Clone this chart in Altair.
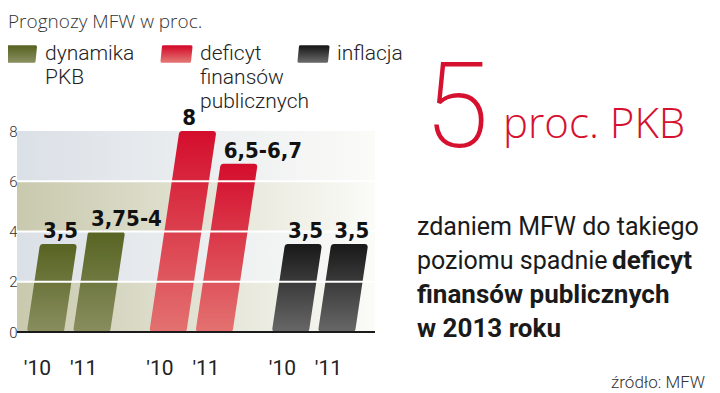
import altair as alt
import pandas as pd

# ---------------- data ----------------
groups = ["dynamika PKB", "dynamika PKB", "deficyt", "deficyt", "inflacja", "inflacja"]
years = ["'10", "'11", "'10", "'11", "'10", "'11"]
values = [3.5, 4.0, 8.0, 6.7, 3.5, 3.5]
value_labels = ["3,5", "3,75-4", "8", "6,5-6,7", "3,5", "3,5"]
y_ticks = [0, 2, 4, 6, 8]
grid_values = [2, 4, 6]
band_lo = [0, 2, 4, 6]
band_hi = [2, 4, 6, 8]
band_tone = ["olive", "gray", "olive", "gray"]

title_text = "Prognozy MFW w proc."
legend_labels = ["dynamika\nPKB", "deficyt\nfinansów\npublicznych", "inflacja"]
big_number = "5"
big_unit = "proc. PKB"
para_regular_1 = "zdaniem MFW do takiego"
para_regular_2 = "poziomu spadnie"
para_bold_2 = "deficyt"
para_bold_3 = "finansów publicznych"
para_bold_4 = "w 2013 roku"
source_text = "źródło: MFW"

# ---------------- layout constants ----------------
W, H = 358, 201
X_MAX = 7.6
X0, GROUP_STEP, YEAR_STEP, BAR_W = 0.21, 2.6, 0.98, 0.786
SLANT = 0.0796          # horizontal shift per value unit (italic bars)
INSET_X, INSET_Y = 0.064, 0.12   # inset compensating rounded stroke

xs = alt.Scale(domain=[0, X_MAX], nice=False, zero=False)
ys = alt.Scale(domain=[0, 8], nice=False)
yaxis = alt.Axis(values=y_ticks, domain=False, ticks=False, grid=False, labelPadding=0,
                 labelFontSize=15, labelFont="Roboto", labelFontWeight=300,
                 labelColor="#333333", title=None)

gi = [i // 2 for i in range(len(values))]
yi = [i % 2 for i in range(len(values))]
xl = [X0 + g * GROUP_STEP + y * YEAR_STEP for g, y in zip(gi, yi)]

rows = []
for i, v in enumerate(values):
    for yy in (INSET_Y, v - INSET_Y):
        rows.append({"bar": i, "group": groups[i], "y": yy,
                     "xa": xl[i] + INSET_X + SLANT * yy,
                     "xb": xl[i] + BAR_W - INSET_X + SLANT * yy})
bars_df = pd.DataFrame(rows)

lab_df = pd.DataFrame({
    "v": values, "label": value_labels, "year": years,
    "xtop": [x + SLANT * v for x, v in zip(xl, values)],
    "xbot": [x + BAR_W / 2 for x in xl],
    "zero": [0] * len(values),
})

bands_df = pd.DataFrame({"lo": band_lo, "hi": band_hi, "tone": band_tone})
grid_df = pd.DataFrame({"g": grid_values})


def vgrad(top, bottom):
    return alt.Gradient(gradient="linear", x1=0, x2=0, y1=0, y2=1,
                        stops=[alt.GradientStop(offset=0, color=top),
                               alt.GradientStop(offset=1, color=bottom)])


def hgrad(left, right):
    return alt.Gradient(gradient="linear", x1=0, x2=1, y1=0, y2=0,
                        stops=[alt.GradientStop(offset=0, color=left),
                               alt.GradientStop(offset=1, color=right)])


palette = {
    "dynamika PKB": ("#596524", "#878c5d"),
    "deficyt": ("#d40f2e", "#e3706f"),
    "inflacja": ("#1b1b1b", "#656565"),
}

layers = []

# background bands
for tone, col in (("olive", "#c8c9ad"), ("gray", "#dbe0e7")):
    layers.append(
        alt.Chart(bands_df).transform_filter(alt.datum.tone == tone)
        .mark_rect(fill=hgrad(col, "#fbfbf8"))
        .encode(x=alt.value(0), x2=alt.value("width"),
                y=alt.Y("lo:Q", scale=ys, axis=yaxis), y2="hi:Q")
    )

# slanted bars
for g, (top, bot) in palette.items():
    grad = vgrad(top, bot)
    layers.append(
        alt.Chart(bars_df).transform_filter(alt.datum.group == g)
        .mark_area(orient="horizontal", fill=grad, stroke=grad, strokeWidth=6,
                   strokeJoin="round")
        .encode(y=alt.Y("y:Q", scale=ys, axis=yaxis),
                x=alt.X("xa:Q", scale=xs, axis=None),
                x2="xb:Q", detail="bar:N")
    )

# white gridlines over bars
layers.append(
    alt.Chart(grid_df).mark_rule(color="white", strokeWidth=2)
    .encode(y=alt.Y("g:Q", scale=ys, axis=yaxis), x=alt.value(0), x2=alt.value("width"))
)

# baseline
layers.append(
    alt.Chart(pd.DataFrame({"z": [0]})).mark_rule(color="#1a1a1a", strokeWidth=2)
    .encode(y=alt.Y("z:Q", scale=ys, axis=yaxis), x=alt.value(0), x2=alt.value("width"))
)

# value labels
layers.append(
    alt.Chart(lab_df).mark_text(align="left", baseline="alphabetic", dx=3, dy=-6,
                                font="DejaVu Sans Condensed", fontWeight="bold",
                                fontSize=22, color="#111111")
    .encode(x=alt.X("xtop:Q", scale=xs, axis=None), y=alt.Y("v:Q", scale=ys, axis=yaxis),
            text="label:N")
)

# year labels
layers.append(
    alt.Chart(lab_df).mark_text(align="center", baseline="alphabetic", dx=-8, dy=43,
                                font="Roboto", fontSize=21, color="#222222")
    .encode(x=alt.X("xbot:Q", scale=xs, axis=None), y=alt.Y("zero:Q", scale=ys, axis=yaxis),
            text="year:N")
)


def txt(s, x, y, size, weight="normal", color="#222222", font="Roboto",
        align="left", line_height=None):
    kw = dict(align=align, baseline="alphabetic", font=font, fontSize=size,
              fontWeight=weight, color=color, lineBreak="\n")
    if line_height:
        kw["lineHeight"] = line_height
    return (alt.Chart(pd.DataFrame({"t": [s]})).mark_text(**kw)
            .encode(x=alt.value(x), y=alt.value(y), text="t:N"))


swatch_path = "M-0.9,-0.5 L1,-0.5 L0.9,0.5 L-1,0.5 Z"


def swatch(x, y, top, bot):
    grad = vgrad(top, bot)
    return (alt.Chart(pd.DataFrame({"t": [1]}))
            .mark_point(shape=swatch_path, filled=True, size=841, fill=grad,
                        stroke=grad, strokeWidth=3, strokeJoin="round", opacity=1)
            .encode(x=alt.value(x), y=alt.value(y)))


# title + legend
layers.append(txt(title_text, -9, -103, 19, weight=300, color="#333333", font="Open Sans"))
legend_x = [4, 159.5, 296.5]
legend_tx = [28, 183, 320]
for k, g in enumerate(palette):
    top, bot = palette[g]
    layers.append(swatch(legend_x[k], -77, top, bot))
    layers.append(txt(legend_labels[k], legend_tx[k], -71, 21, weight=300,
                      color="#222222", line_height=24))

# big number
red = "#d5112f"
layers.append(txt(big_number, 407, 16, 118, weight=200, color=red))
layers.append(txt(big_unit, 486, 7, 42, weight=300, color=red, font="Open Sans"))

# paragraph
layers.append(txt(para_regular_1, 400, 104, 25, color="#1a1a1a"))
layers.append(txt(para_regular_2, 400, 138, 25, color="#1a1a1a"))
layers.append(txt(para_bold_2, 595, 138, 26, weight="bold", color="#1a1a1a"))
layers.append(txt(para_bold_3, 400, 172, 26, weight="bold", color="#1a1a1a"))
layers.append(txt(para_bold_4, 400, 206, 26, weight="bold", color="#1a1a1a"))

# source
layers.append(txt(source_text, 688, 257, 17, weight=300, color="#333333", align="right"))

chart = alt.layer(*layers).properties(
    width=W, height=H,
    padding={"left": 9, "top": 123, "right": 337, "bottom": 61},
    autosize=alt.AutoSizeParams(type="none"),
).configure_view(stroke=None)

chart.save("out.html", embed_options={"renderer": "svg", "actions": False})
